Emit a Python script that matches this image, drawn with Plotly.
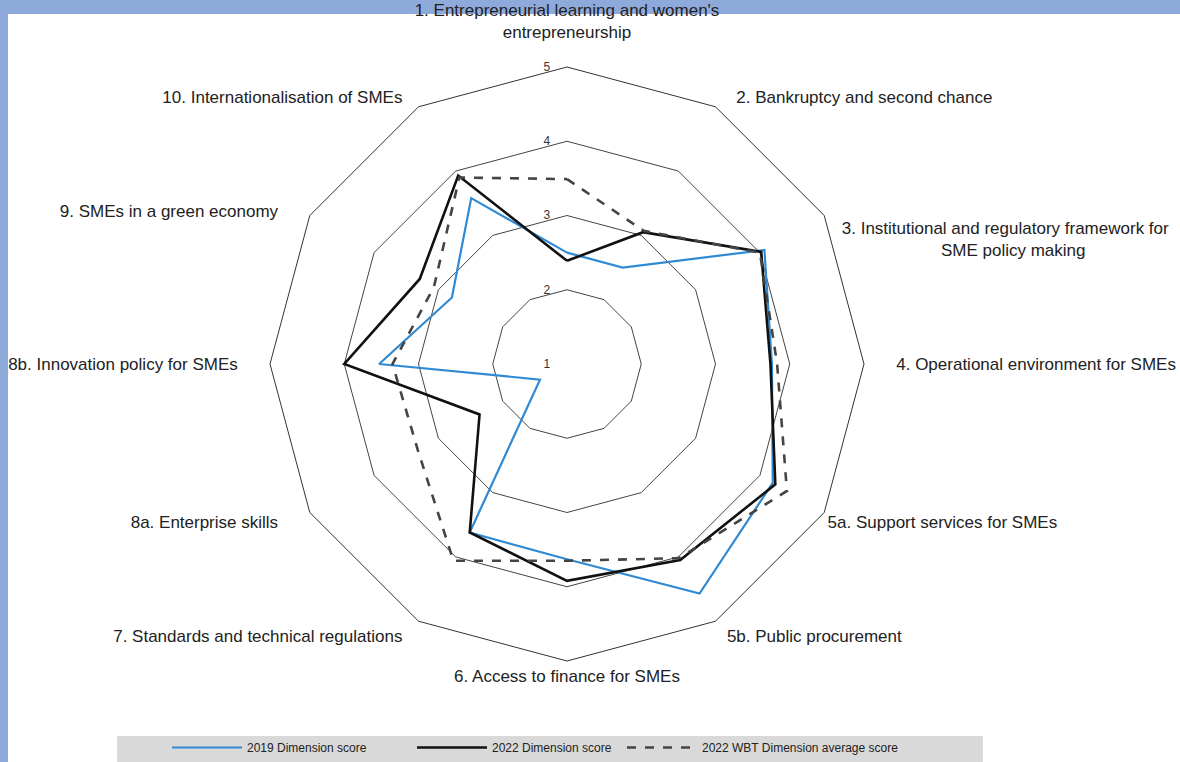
import plotly.graph_objects as go

categories = [
    "1. Entrepreneurial learning and women's<br>entrepreneurship",
    "2. Bankruptcy and second chance",
    "3. Institutional and regulatory framework for<br>SME policy making",
    "4. Operational environment for SMEs",
    "5a. Support services for SMEs",
    "5b. Public procurement",
    "6. Access to finance for SMEs",
    "7. Standards and technical regulations",
    "8a. Enterprise skills",
    "8b. Innovation policy for SMEs",
    "9. SMEs in a green economy",
    "10. Internationalisation of SMEs",
]
score_2019 = [2.50, 2.50, 4.07, 3.76, 4.20, 4.57, 3.63, 3.62, 1.42, 3.53, 2.79, 3.58]
score_2022 = [2.39, 3.05, 4.02, 3.74, 4.24, 4.05, 3.92, 3.62, 2.36, 4.00, 3.29, 3.93]
wbt_avg_2022 = [3.49, 3.07, 4.00, 3.83, 4.42, 4.02, 3.65, 4.06, 3.32, 3.35, 3.07, 3.90]
series_names = ["2019 Dimension score", "2022 Dimension score", "2022 WBT Dimension average score"]
radial_ticks = [1, 2, 3, 4, 5]

W, H = 1180, 762
cx, cy, R = 567, 364, 297

def closed(v):
    return list(v) + [v[0]]

# label placement tweaks (padding with non-breaking spaces / blank lines)
NB = "\u00a0"
pad_before = {1: 4, 3: 6, 5: 2}
pad_after = {7: 3, 8: 6, 9: 6, 10: 6, 11: 3}

def label_text(i, c):
    if i == 0:
        return c + "<br>" + NB
    if i == 2:
        first, second = c.split("<br>")
        return (NB + "<br>") * 6 + NB * 3 + first + "<br>" + NB * 24 + second
    return NB * pad_before.get(i, 0) + c + NB * pad_after.get(i, 0)

tick_text = [label_text(i, c) for i, c in enumerate(categories)]

fig = go.Figure()
styles = [
    dict(color="#2f8ad3", width=2.2),
    dict(color="#111111", width=2.6),
    dict(color="#444444", width=2.6, dash="dash"),
]
legend_ids = ["legend", "legend", "legend2"]
for name, vals, st, lg in zip(series_names, [score_2019, score_2022, wbt_avg_2022], styles, legend_ids):
    fig.add_trace(go.Scatterpolar(
        r=closed(vals), theta=closed(categories), mode="lines",
        name=name, line=st, legend=lg,
    ))

FONT = "Liberation Sans, Arial, sans-serif"

fig.update_layout(
    width=W, height=H,
    margin=dict(l=0, r=0, t=0, b=0),
    paper_bgcolor="white",
    font=dict(family=FONT, size=17, color="#222222"),
    polar=dict(
        domain=dict(x=[(cx - R) / W, (cx + R) / W], y=[1 - (cy + R) / H, 1 - (cy - R) / H]),
        bgcolor="white",
        gridshape="linear",
        angularaxis=dict(
            direction="clockwise", rotation=90, type="category",
            categoryorder="array", categoryarray=categories,
            tickmode="array", tickvals=categories, ticktext=tick_text,
            showgrid=False, showline=True, linecolor="#333333", linewidth=1,
            ticks="", tickfont=dict(size=17, color="#222222"),
        ),
        radialaxis=dict(
            range=[1, 5], tickvals=radial_ticks, ticktext=[str(t) for t in radial_ticks],
            angle=90, tickangle=90, side="counterclockwise",
            showline=False, showgrid=True, gridcolor="#444444", gridwidth=1,
            ticks="outside", ticklen=12, tickcolor="rgba(0,0,0,0)",
            tickfont=dict(size=12, color="#333333"),
        ),
    ),
    showlegend=True,
    legend=dict(
        orientation="h", x=167 / W, xanchor="left", y=0, yanchor="bottom",
        bgcolor="rgba(0,0,0,0)", itemwidth=70, entrywidth=160,
        font=dict(size=12, color="#222222"),
    ),
    legend2=dict(
        orientation="h", x=622 / W, xanchor="left", y=0, yanchor="bottom",
        bgcolor="rgba(0,0,0,0)", itemwidth=70,
        font=dict(size=12, color="#222222"),
    ),
    shapes=[
        dict(type="rect", xref="paper", yref="paper", x0=0, x1=1, y0=1 - 14 / H, y1=1,
             fillcolor="#8eaadb", line=dict(width=0), layer="below"),
        dict(type="rect", xref="paper", yref="paper", x0=0, x1=8 / W, y0=0, y1=1,
             fillcolor="#8eaadb", line=dict(width=0), layer="below"),
        dict(type="rect", xref="paper", yref="paper", x0=117 / W, x1=983 / W, y0=0, y1=1 - 736 / H,
             fillcolor="#d9d9d9", line=dict(width=0), layer="below"),
    ],
)

fig.write_html(
    "out.html",
    config={"displayModeBar": False},
    post_script="document.body.style.margin='0';document.body.style.overflow='hidden';",
)
